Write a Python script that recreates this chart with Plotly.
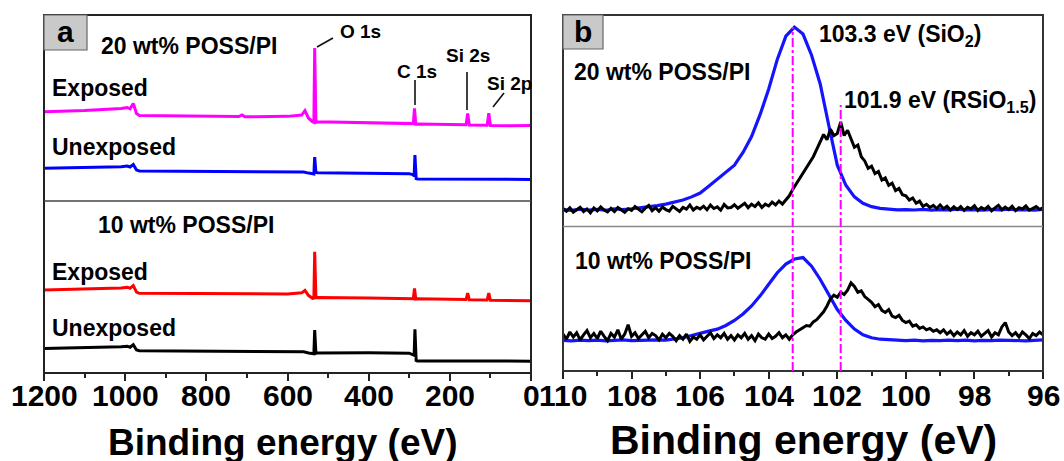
import numpy as np
import plotly.graph_objects as go

W, H = 1064, 461
FONT = "Liberation Sans, Arial, sans-serif"

# ---------------- Panel a: survey spectra (binding energy eV, intensity a.u.) -------------
e_exp20 = [1200, 1100, 1010, 995, 988, 980, 972, 965, 900, 800, 720, 712, 705, 600, 565, 557,
           548, 538, 535, 533, 530, 526, 400, 300, 290, 287, 284, 280, 200, 160, 156, 152,
           108, 104, 100, 50, 0]
i_exp20 = [48.0, 48.6, 49.7, 50.3, 49.6, 52.4, 47.0, 46.0, 45.9, 45.6, 45.4, 46.3, 45.3, 45.5,
           46.2, 48.6, 44.5, 42.5, 42.3, 82.3, 42.3, 42.6, 42.2, 41.9, 41.6, 49.8, 41.3, 41.4,
           41.2, 41.0, 47.0, 40.9, 40.7, 47.2, 40.6, 40.4, 40.6]

e_une20 = [1200, 1100, 1010, 995, 988, 980, 972, 965, 800, 600, 560, 548, 538, 535, 533, 530,
           526, 400, 300, 292, 288, 286, 283, 280, 0]
i_une20 = [17.6, 17.9, 18.4, 18.8, 18.3, 19.6, 16.6, 16.1, 15.9, 15.8, 15.6, 15.0, 14.3, 14.5,
           23.6, 15.4, 15.2, 15.1, 14.7, 14.2, 13.6, 24.7, 12.0, 11.8, 11.6]

e_exp10 = [1200, 1100, 1010, 995, 988, 980, 972, 965, 800, 600, 565, 557, 548, 538, 535, 533,
           530, 526, 400, 300, 290, 287, 284, 280, 200, 160, 156, 152, 108, 104, 100, 0]
i_exp10 = [48.3, 48.8, 49.4, 49.9, 49.3, 50.8, 47.0, 46.3, 46.1, 46.0, 46.6, 48.0, 45.0, 43.4,
           43.6, 70.5, 43.8, 43.9, 43.6, 43.4, 43.2, 49.2, 43.0, 43.1, 42.9, 42.7, 46.5, 42.6,
           42.5, 46.5, 42.3, 42.0]

e_une10 = [1200, 1100, 1010, 995, 988, 980, 972, 965, 800, 600, 560, 548, 538, 535, 533, 530,
           526, 400, 300, 292, 288, 286, 283, 280, 0]
i_une10 = [14.3, 14.6, 15.2, 15.6, 15.0, 16.4, 13.4, 13.0, 12.8, 12.6, 12.3, 11.6, 11.0, 11.2,
           25.0, 11.5, 11.6, 11.8, 11.5, 10.8, 10.3, 25.4, 7.3, 7.0, 6.9]

# ---------------- Panel b: Si 2p high-resolution spectra ----------------
e_blue = np.round(np.arange(110.0, 95.99, -0.25), 2)   # energy grid of the smooth (exposed) scans
e_black = np.round(np.arange(110.0, 95.99, -0.1), 1)   # energy grid of the noisy (unexposed) scans

b_exp20 = [8.0, 7.6, 8.2, 7.8, 8.1, 7.7, 8.3, 8.0, 8.4,
           8.8, 9.2, 9.9, 10.6, 11.4, 12.5, 14.0, 15.8,
           19.0, 22.5, 25.5, 29.0, 35.0, 42.5, 53.0, 65.0,
           79.0, 90.0, 94.3, 91.0, 81.0, 67.5, 48.0, 29.0,
           19.5, 14.0, 11.0, 9.4, 8.6, 8.1, 7.9, 8.0,
           7.8, 8.1, 7.7, 8.0, 7.9, 8.2, 7.8, 8.0,
           7.7, 8.1, 7.9, 8.2, 7.8, 8.0, 7.7, 8.1]

b_exp10 = [21.2, 20.8, 21.4, 21.0, 21.3, 20.9, 21.2, 21.5, 21.0,
           21.3, 21.1, 21.6, 21.4, 22.0, 23.0, 24.6, 26.3,
           27.6, 29.0, 31.5, 35.0, 39.5, 45.0, 52.0, 60.0,
           68.0, 74.0, 77.5, 78.5, 72.5, 63.5, 53.0, 42.5,
           35.0, 29.0, 25.0, 23.0, 22.0, 21.5, 21.2, 21.0,
           21.3, 20.9, 21.2, 21.0, 21.4, 21.0, 21.3, 20.8,
           21.2, 21.0, 21.4, 21.1, 21.3, 20.9, 21.2, 21.5]

k_une20 = [8.5, 7.2, 8.9, 6.8, 7.9, 9.1, 7.0, 8.3, 6.5, 8.8,
           7.4, 9.3, 7.8, 6.9, 8.6, 7.1, 9.0, 8.0, 6.7, 8.4,
           7.6, 9.4, 8.1, 7.0, 8.7, 10.0, 7.5, 8.9, 7.2, 9.2,
           8.0, 7.3, 9.5, 8.4, 7.1, 9.0, 8.2, 10.2, 7.8, 9.1,
           8.3, 9.6, 7.9, 10.1, 8.5, 9.3, 7.7, 10.4, 8.8, 9.0,
           10.3, 8.6, 9.8, 11.0, 8.9, 10.5, 9.4, 11.2, 9.0, 10.6,
           9.7, 11.5, 10.2, 12.0, 10.6, 12.4, 14.5, 17.5, 20.0, 23.0,
           25.0, 28.0, 30.5, 33.0, 36.5, 40.0, 43.5, 41.0, 46.0, 43.0,
           44.0, 49.5, 43.0, 45.5, 41.0, 37.5, 38.5, 33.0, 31.0, 27.5,
           28.5, 25.0, 26.0, 22.0, 23.0, 19.5, 20.5, 17.0, 18.0, 15.0,
           14.5, 12.5, 13.5, 11.0, 12.0, 9.5, 10.5, 9.0, 10.0, 8.5,
           10.2, 8.4, 9.6, 7.8, 9.3, 8.0, 9.4, 7.6, 9.1, 8.3,
           9.8, 7.6, 9.0, 8.1, 9.5, 7.4, 8.8, 10.0, 7.9, 9.2,
           8.0, 9.6, 7.5, 8.9, 8.3, 9.7, 7.7, 8.6, 9.4, 8.1,
           8.8]

k_une10 = [25.5, 22.0, 27.0, 23.5, 26.5, 21.5, 25.0, 28.0, 23.0, 26.0,
           22.5, 27.5, 24.0, 21.0, 26.0, 23.5, 28.5, 22.0, 25.5, 32.0,
           24.0, 26.5, 22.5, 25.0, 27.5, 23.0, 26.0, 24.5, 21.5, 25.5,
           23.0, 26.0, 24.0, 21.0, 24.5, 22.0, 25.5, 20.5, 23.5, 22.0,
           25.0, 21.5, 24.0, 26.5, 22.5, 25.0, 23.0, 26.0, 22.0, 24.5,
           21.5, 25.0, 23.0, 26.0, 22.0, 24.5, 21.0, 25.5, 23.0, 22.0,
           25.5, 22.5, 24.0, 26.5, 23.0, 25.0, 22.0, 25.0, 27.0, 28.5,
           29.5, 31.5, 31.0, 34.0, 35.5, 38.0, 41.0, 45.0, 50.0, 52.5,
           51.0, 54.5, 53.0, 56.0, 61.0, 58.5, 54.5, 55.5, 51.5, 49.5,
           47.5, 44.5, 46.0, 42.0, 40.5, 42.5, 38.0, 37.0, 38.5, 35.0,
           33.5, 34.5, 31.0, 32.0, 29.5, 30.5, 28.5, 29.5, 27.5, 28.5,
           26.5, 28.5, 25.5, 27.5, 24.5, 27.0, 25.0, 28.0, 24.0, 26.5,
           25.0, 27.5, 24.0, 26.0, 28.0, 23.5, 26.5, 25.0, 30.5, 33.5,
           27.0, 24.5, 26.5, 23.5, 27.0, 25.0, 22.5, 26.0, 24.5, 27.0,
           25.0]

peak_sio2 = 103.3
peak_rsio = 101.9

a_ticks = [1200, 1000, 800, 600, 400, 200, 0]
b_ticks = [110, 108, 106, 104, 102, 100, 98, 96]

# ---------------- layout geometry (pixels) ----------------
AX0, AX1 = 44, 531
BX0, BX1 = 563, 1043
TOP = 15
A_DIV, A_BOT = 201, 373
B_DIV, B_BOT = 226.5, 371


def px(x):
    return x / W


def py(y):
    return 1 - y / H


fig = go.Figure()

fig.add_trace(go.Scatter(x=e_exp20, y=i_exp20, mode="lines", line=dict(color="#ff00ff", width=3),
                         xaxis="x", yaxis="y", showlegend=False))
fig.add_trace(go.Scatter(x=e_une20, y=i_une20, mode="lines", line=dict(color="#0000ff", width=3),
                         xaxis="x", yaxis="y", showlegend=False))
fig.add_trace(go.Scatter(x=e_exp10, y=i_exp10, mode="lines", line=dict(color="#ff0000", width=3),
                         xaxis="x2", yaxis="y2", showlegend=False))
fig.add_trace(go.Scatter(x=e_une10, y=i_une10, mode="lines", line=dict(color="#000000", width=3),
                         xaxis="x2", yaxis="y2", showlegend=False))

fig.add_trace(go.Scatter(x=e_blue, y=b_exp20, mode="lines", line=dict(color="#1414ff", width=3.2),
                         xaxis="x3", yaxis="y3", showlegend=False))
fig.add_trace(go.Scatter(x=e_black, y=k_une20, mode="lines", line=dict(color="#000000", width=3),
                         xaxis="x3", yaxis="y3", showlegend=False))
fig.add_trace(go.Scatter(x=e_blue, y=b_exp10, mode="lines", line=dict(color="#1414ff", width=3.2),
                         xaxis="x4", yaxis="y4", showlegend=False))
fig.add_trace(go.Scatter(x=e_black, y=k_une10, mode="lines", line=dict(color="#000000", width=3),
                         xaxis="x4", yaxis="y4", showlegend=False))

hidden_x = dict(showline=False, showticklabels=False, ticks="", showgrid=False, zeroline=False,
                automargin=False)
yax = dict(range=[0, 100], showline=False, showticklabels=False, ticks="", showgrid=False,
           zeroline=False, automargin=False)
tick_x = dict(showline=False, showgrid=False, zeroline=False, automargin=False, ticks="outside",
              ticklen=7, tickwidth=1.5, tickcolor="#222", showticklabels=False)

fig.update_layout(
    template="none",
    width=W, height=H, autosize=False,
    margin=dict(l=0, r=0, t=0, b=0, pad=0, autoexpand=False),
    paper_bgcolor="white", plot_bgcolor="white",
    xaxis=dict(domain=[px(AX0), px(AX1)], range=[1200, 0], anchor="y", **hidden_x),
    yaxis=dict(domain=[py(A_DIV), py(TOP)], anchor="x", **yax),
    xaxis2=dict(domain=[px(AX0), px(AX1)], range=[1200, 0], anchor="y2", tickvals=a_ticks,
                minor=dict(ticks="outside", ticklen=4, tickwidth=1.5, tickcolor="#222",
                           dtick=100, showgrid=False), **tick_x),
    yaxis2=dict(domain=[py(A_BOT), py(A_DIV)], anchor="x2", **yax),
    xaxis3=dict(domain=[px(BX0), px(BX1)], range=[110, 96], anchor="y3", **hidden_x),
    yaxis3=dict(domain=[py(B_DIV), py(TOP)], anchor="x3", **yax),
    xaxis4=dict(domain=[px(BX0), px(BX1)], range=[110, 96], anchor="y4", tickvals=b_ticks,
                minor=dict(ticks="outside", ticklen=4, tickwidth=1.5, tickcolor="#222",
                           dtick=1, showgrid=False), **tick_x),
    yaxis4=dict(domain=[py(B_BOT), py(B_DIV)], anchor="x4", **yax),
)

shapes = []
# frames
shapes.append(dict(type="rect", xref="paper", yref="paper", x0=px(AX0), x1=px(AX1), y0=py(A_BOT), y1=py(TOP),
                   line=dict(color="#222", width=2)))
shapes.append(dict(type="rect", xref="paper", yref="paper", x0=px(BX0), x1=px(BX1), y0=py(B_BOT), y1=py(TOP),
                   line=dict(color="#333", width=2)))
shapes.append(dict(type="line", xref="paper", yref="paper", x0=px(AX0), x1=px(AX1), y0=py(A_DIV), y1=py(A_DIV),
                   line=dict(color="#444", width=1.5)))
shapes.append(dict(type="line", xref="paper", yref="paper", x0=px(BX0), x1=px(BX1), y0=py(B_DIV), y1=py(B_DIV),
                   line=dict(color="#888", width=1.5)))
# panel letter boxes
shapes.append(dict(type="rect", xref="paper", yref="paper", x0=px(AX0), x1=px(87), y0=py(50), y1=py(TOP),
                   fillcolor="#c9c9c9", line=dict(color="#666", width=1.2)))
shapes.append(dict(type="rect", xref="paper", yref="paper", x0=px(BX0), x1=px(603), y0=py(49), y1=py(TOP),
                   fillcolor="#c9c9c9", line=dict(color="#666", width=1.2)))
# leader lines in panel a
for (x0, y0, x1, y1) in [(317, 47, 333, 38), (415, 80, 415, 105), (467, 72, 467, 110), (493, 107, 504, 93)]:
    shapes.append(dict(type="line", xref="paper", yref="paper", x0=px(x0), y0=py(y0), x1=px(x1), y1=py(y1),
                       line=dict(color="#111", width=1.6)))
# peak position markers in panel b
shapes.append(dict(type="line", xref="x3", yref="paper", x0=peak_sio2, x1=peak_sio2, y0=py(B_BOT), y1=py(27),
                   line=dict(color="#ff00ff", width=2, dash="dashdot")))
shapes.append(dict(type="line", xref="x3", yref="paper", x0=peak_rsio, x1=peak_rsio, y0=py(B_BOT), y1=py(105),
                   line=dict(color="#ff00ff", width=2, dash="dashdot")))
fig.update_layout(shapes=shapes)


def ann(text, x, y, size, xanchor="left", yanchor="middle", xref="paper"):
    fig.add_annotation(text=text, x=px(x) if xref == "paper" else x, y=py(y), xref=xref, yref="paper",
                       showarrow=False, xanchor=xanchor, yanchor=yanchor,
                       font=dict(family=FONT, size=size, color="black", weight="bold"))


# tick labels placed through the axes' own data scales
for t in a_ticks:
    ann(str(t), t, 395, 30, xanchor="center", xref="x2")
for t in b_ticks:
    ann(str(t), t, 395, 30, xanchor="center", xref="x4")

ann("a", 65, 31, 30, xanchor="center")
ann("b", 583, 31, 30, xanchor="center")
ann("20 wt% POSS/PI", 99, 46, 23)
ann("Exposed", 50, 88, 23)
ann("Unexposed", 50, 147, 23)
ann("10 wt% POSS/PI", 96, 225, 23)
ann("Exposed", 50, 272, 23)
ann("Unexposed", 50, 328, 23)
ann("O 1s", 338, 32, 19)
ann("C 1s", 395, 71, 19)
ann("Si 2s", 444, 56, 19)
ann("Si 2p", 485, 83, 19)
ann("103.3 eV (SiO<sub>2</sub>)", 817, 36, 23)
ann("101.9 eV (RSiO<sub>1.5</sub>)", 842, 101, 23)
ann("20 wt% POSS/PI", 572, 72, 23)
ann("10 wt% POSS/PI", 573, 261, 23)
ann("Binding energy (eV)", (AX0 + AX1) / 2 - 5, 442, 37, xanchor="center")
ann("Binding energy (eV)", (BX0 + BX1) / 2, 440, 41, xanchor="center")

fig.write_html("out.html")
